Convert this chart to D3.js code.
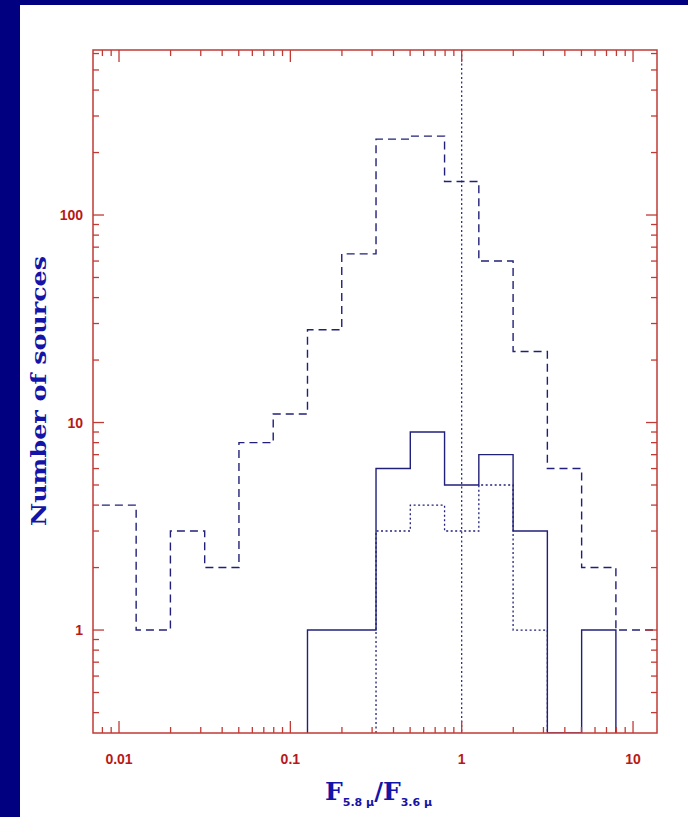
<!DOCTYPE html>
<html>
<head>
<meta charset="utf-8">
<script src="https://cdn.jsdelivr.net/npm/d3@7"></script>
<style>
  html, body { margin: 0; padding: 0; background: #000080; }
  svg { display: block; }
</style>
</head>
<body>
<div id="chartHolder"></div>
<script>
// bin centres in log10(F5.8/F3.6), 0.2 dex wide
const binCenters = [-2.0, -1.8, -1.6, -1.4, -1.2, -1.0, -0.8, -0.6, -0.4, -0.2, 0.0, 0.2, 0.4, 0.6, 0.8, 1.0, 1.2];
// all sources (dashed)
const allCounts = [4, 1, 3, 2, 8, 11, 28, 65, 232, 240, 145, 60, 22, 6, 2, 1, 1];
// solid histogram, bins -0.8 .. 0.8
const solidCenters = [-0.8, -0.6, -0.4, -0.2, 0.0, 0.2, 0.4, 0.6, 0.8];
const solidCounts = [1, 1, 6, 9, 5, 7, 3, 0, 1];
// dotted histogram, bins -0.4 .. 0.4
const dotCenters = [-0.4, -0.2, 0.0, 0.2, 0.4];
const dotCounts = [3, 4, 3, 5, 1];
const binHalf = 0.1;

const xTicks = [0.01, 0.1, 1, 10];
const yTicks = [1, 10, 100];
const refLine = 1;

const W = 688, H = 817;
const plot = { left: 93, right: 657, top: 50, bottom: 733 };
const frameColor = "#c03a36";
const labelRed = "#b81818";
const lineBlue = "#20207a";
const titleBlue = "#1414a8";

const svg = d3.select("#chartHolder").append("svg")
  .attr("width", W).attr("height", H);

// navy border left & top, white panel
svg.append("rect").attr("width", W).attr("height", H).attr("fill", "#000080");
svg.append("rect").attr("x", 20).attr("y", 5).attr("width", W - 20).attr("height", H - 5).attr("fill", "#fff");

const x = d3.scaleLog().domain([0.00705, 13.8]).range([plot.left, plot.right]);
const y = d3.scaleLog().domain([0.319, 624]).range([plot.bottom, plot.top]);

svg.append("clipPath").attr("id", "clip")
  .append("rect")
  .attr("x", plot.left).attr("y", plot.top)
  .attr("width", plot.right - plot.left).attr("height", plot.bottom - plot.top);

const yv = c => c > 0 ? y(c) : plot.bottom;

// step outline; fromBase = rise from the bottom at the first edge
function stepPoints(centers, counts, fromBase) {
  const pts = [];
  if (fromBase) pts.push([x(Math.pow(10, centers[0] - binHalf)), plot.bottom]);
  centers.forEach((c, i) => {
    pts.push([x(Math.pow(10, c - binHalf)), yv(counts[i])]);
    pts.push([x(Math.pow(10, c + binHalf)), yv(counts[i])]);
  });
  pts.push([x(Math.pow(10, centers[centers.length - 1] + binHalf)), plot.bottom]);
  return pts;
}

const line = d3.line();
const g = svg.append("g").attr("clip-path", "url(#clip)");

g.append("path")
  .attr("d", line(stepPoints(binCenters, allCounts, false)))
  .attr("fill", "none").attr("stroke", lineBlue).attr("stroke-width", 1.4)
  .attr("stroke-dasharray", "8,5");

g.append("path")
  .attr("d", line(stepPoints(solidCenters, solidCounts, true)))
  .attr("fill", "none").attr("stroke", lineBlue).attr("stroke-width", 1.4);

g.append("path")
  .attr("d", line(stepPoints(dotCenters, dotCounts, true)))
  .attr("fill", "none").attr("stroke", lineBlue).attr("stroke-width", 1.3)
  .attr("stroke-dasharray", "2,2.5");

// vertical dotted line at ratio = 1
g.append("line")
  .attr("x1", x(refLine)).attr("x2", x(refLine))
  .attr("y1", plot.top).attr("y2", plot.bottom)
  .attr("stroke", lineBlue).attr("stroke-width", 1.2)
  .attr("stroke-dasharray", "2,2.5");

// axes (IDL-style: ticks inward on all four sides)
function minorTicks(scale) {
  const [a, b] = scale.domain();
  const out = [];
  for (let e = Math.floor(Math.log10(a)); e <= Math.ceil(Math.log10(b)); e++) {
    for (let m = 1; m < 10; m++) {
      const v = m * Math.pow(10, e);
      if (v >= a && v <= b) out.push(v);
    }
  }
  return out;
}

const xAll = minorTicks(x), yAll = minorTicks(y);
const isMajor = v => Math.abs(Math.log10(v) - Math.round(Math.log10(v))) < 1e-9;

const axisG = svg.append("g").attr("stroke", frameColor).attr("stroke-width", 1.3);
xAll.forEach(v => {
  const len = isMajor(v) ? 12 : 6;
  axisG.append("line").attr("x1", x(v)).attr("x2", x(v)).attr("y1", plot.bottom).attr("y2", plot.bottom - len);
  axisG.append("line").attr("x1", x(v)).attr("x2", x(v)).attr("y1", plot.top).attr("y2", plot.top + len);
});
yAll.forEach(v => {
  const len = isMajor(v) ? 11 : 6;
  axisG.append("line").attr("y1", y(v)).attr("y2", y(v)).attr("x1", plot.left).attr("x2", plot.left + len);
  axisG.append("line").attr("y1", y(v)).attr("y2", y(v)).attr("x1", plot.right).attr("x2", plot.right - len);
});

svg.append("rect")
  .attr("x", plot.left).attr("y", plot.top)
  .attr("width", plot.right - plot.left).attr("height", plot.bottom - plot.top)
  .attr("fill", "none").attr("stroke", frameColor).attr("stroke-width", 1.5);

svg.append("g").selectAll("text").data(xTicks).enter().append("text")
  .attr("x", d => x(d)).attr("y", 764)
  .attr("text-anchor", "middle")
  .attr("font-family", "Liberation Sans, Arial, sans-serif")
  .attr("font-weight", "bold").attr("font-size", 14)
  .attr("fill", labelRed)
  .text(d => String(d));

svg.append("g").selectAll("text").data(yTicks).enter().append("text")
  .attr("x", 83).attr("y", d => y(d) + 5)
  .attr("text-anchor", "end")
  .attr("font-family", "Liberation Sans, Arial, sans-serif")
  .attr("font-weight", "bold").attr("font-size", 14)
  .attr("fill", labelRed)
  .text(d => String(d));

// y axis title
svg.append("text")
  .attr("transform", "translate(46,391) rotate(-90)")
  .attr("text-anchor", "middle")
  .attr("font-family", "DejaVu Serif, serif")
  .attr("font-weight", "bold").attr("font-size", 20)
  .attr("fill", titleBlue)
  .attr("textLength", 270).attr("lengthAdjust", "spacingAndGlyphs")
  .text("Number of sources");

// x axis title: F_{5.8 μ}/F_{3.6 μ}
const xt = svg.append("text")
  .attr("x", 325).attr("y", 800)
  .attr("font-weight", "bold")
  .attr("fill", titleBlue);
xt.append("tspan").attr("font-family", "DejaVu Serif, serif").attr("font-size", 25).text("F");
xt.append("tspan").attr("font-family", "DejaVu Sans, sans-serif").attr("font-size", 11).attr("dy", 6).text("5.8 μ");
xt.append("tspan").attr("font-family", "DejaVu Serif, serif").attr("font-size", 24).attr("dy", -6).text("/");
xt.append("tspan").attr("font-family", "DejaVu Serif, serif").attr("font-size", 25).text("F");
xt.append("tspan").attr("font-family", "DejaVu Sans, sans-serif").attr("font-size", 11).attr("dy", 6).text("3.6 μ");
</script>
</body>
</html>
